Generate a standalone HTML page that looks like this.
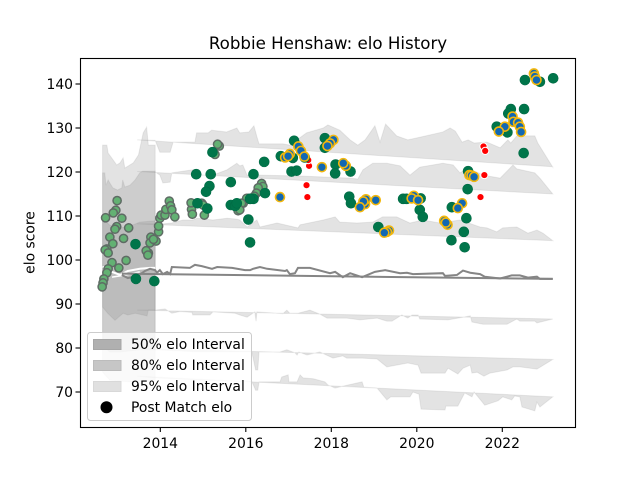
<!DOCTYPE html>
<html>
<head>
<meta charset="utf-8">
<title>Robbie Henshaw: elo History</title>
<style>
html,body{margin:0;padding:0;background:#fff;}
svg{display:block;}
text{font-family:"DejaVu Sans","Liberation Sans",sans-serif;fill:#000;}
</style>
</head>
<body>
<svg id="chart" width="640" height="480" viewBox="0 0 640 480" xmlns="http://www.w3.org/2000/svg">
  <rect x="0" y="0" width="640" height="480" fill="#fff"/>
  <g id="bands"></g>
  <g id="points"></g>
  <rect x="80.5" y="58.5" width="495" height="369" fill="none" stroke="#000" stroke-width="1.1"/>
  <g id="ticks"></g>
  <text x="328" y="49" font-size="16.67" text-anchor="middle">Robbie Henshaw: elo History</text>
  <text x="0" y="0" font-size="13.9" text-anchor="middle" transform="translate(34.5 242.5) rotate(-90)">elo score</text>
  <g>
    <rect x="87.5" y="332.5" width="164" height="88" rx="3" fill="#fff" fill-opacity="0.8" stroke="#cccccc" stroke-width="1"/>
    <rect x="93.5" y="339.5" width="27.5" height="10" fill="#b0b0b0" stroke="#a6a6a6"/>
    <text x="131" y="349" font-size="13.9">50% elo Interval</text>
    <rect x="93.5" y="360.5" width="27.5" height="10" fill="#c6c6c6" stroke="#bcbcbc"/>
    <text x="131" y="370" font-size="13.9">80% elo Interval</text>
    <rect x="93.5" y="381.5" width="27.5" height="10" fill="#e0e0e0" stroke="#d8d8d8"/>
    <text x="131" y="391" font-size="13.9">95% elo Interval</text>
    <circle cx="106.5" cy="407.3" r="6" fill="#000"/>
    <text x="131" y="412" font-size="13.9">Post Match elo</text>
  </g>
</svg>
<script>
var xTickValues = [2014, 2016, 2018, 2020, 2022];
var xTickLabels = ["2014", "2016", "2018", "2020", "2022"];
var yTickValues = [70, 80, 90, 100, 110, 120, 130, 140];
var yTickLabels = ["70", "80", "90", "100", "110", "120", "130", "140"];

var earlyYears = [2012.99,2012.96,2012.90,2012.72,2013.10,2012.98,2012.94,2013.26,2012.82,2013.14,2012.89,2012.75,2012.71,2012.78,2013.20,2012.87,2013.03,2012.78,2012.75,2012.68,2012.66,2012.64,2013.72,2013.67,2013.71,2013.78,2013.76,2013.90,2013.84,2013.96,2013.96,2013.99,2014.02,2014.11,2014.13,2014.21,2014.24,2014.27,2014.34,2014.73,2014.72,2014.75,2014.97,2015.03,2015.09,2015.00,2015.38,2015.28,2015.34,2015.82,2015.94,2016.05,2016.37,2016.40,2016.29,2016.25,2016.02,2015.90,2015.86,2016.10,2016.20];
var earlyElo = [113.5,111.3,110.7,109.6,109.5,107.6,107.0,107.3,105.2,104.9,103.7,102.5,102.3,101.6,99.9,99.4,98.2,98.0,97.1,95.7,94.8,93.9,101.6,102.1,101.1,105.2,103.9,104.3,104.7,106.4,107.7,109.5,110.2,110.2,111.5,113.4,112.3,111.4,109.8,111.5,113.0,110.4,112.9,110.2,111.7,112.5,125.9,124.0,126.3,111.2,112.9,114.0,117.4,116.7,116.4,115.2,114.0,112.9,111.4,113.8,114.5];

var redYears = [2017.48,2017.46,2017.42,2017.44,2021.56,2021.60,2021.58,2021.49];
var redElo = [121.4,122.7,117.0,114.3,125.8,124.8,119.3,114.3];

var darkYears = [2013.42,2013.43,2013.86,2014.84,2015.18,2015.65,2015.15,2015.07,2014.87,2015.10,2015.65,2015.75,2015.79,2016.06,2016.10,2015.22,2016.43,2016.18,2016.45,2016.18,2016.10,2017.13,2016.82,2017.07,2017.19,2017.10,2017.38,2017.85,2017.85,2018.10,2018.09,2018.45,2018.42,2018.46,2019.10,2019.68,2019.76,2022.53,2022.88,2023.19,2022.20,2022.14,2022.51,2021.87,2022.12,2022.50,2021.20,2021.19,2020.09,2020.07,2020.14,2020.82,2021.16,2021.10,2020.81,2021.12];
var darkElo = [103.6,95.7,95.2,119.5,119.5,117.7,116.8,115.5,112.9,111.7,112.5,112.3,112.9,109.2,104.0,124.5,122.3,119.5,115.2,113.9,113.9,127.1,123.6,120.1,120.3,123.2,123.3,127.7,125.5,121.7,119.7,120.1,114.4,112.9,107.5,113.9,113.9,140.9,140.5,141.3,134.3,133.3,134.3,130.3,129.0,124.3,120.2,116.1,114.0,111.4,109.8,112.0,109.5,106.4,104.5,102.9];

var blueYears = [2016.80,2016.92,2017.03,2016.99,2017.23,2017.29,2017.37,2017.78,2018.05,2017.97,2017.91,2018.34,2018.28,2018.79,2018.81,2018.75,2018.67,2019.04,2019.35,2019.30,2019.24,2022.74,2022.76,2022.80,2022.24,2022.26,2022.37,2022.41,2022.44,2022.06,2021.92,2021.23,2021.28,2021.34,2019.93,2019.88,2020.03,2021.06,2020.96,2020.64,2020.72,2020.68];
var blueElo = [114.3,123.3,124.1,123.6,125.8,124.8,123.5,121.1,127.3,126.5,125.9,121.4,122.0,112.7,113.8,113.3,112.0,113.6,106.7,106.4,106.2,142.4,141.7,140.9,132.6,131.4,131.2,130.3,129.1,130.3,129.2,119.3,119.2,118.9,114.6,114.0,113.6,112.9,111.8,108.9,108.0,108.5];

var baseYears = [2013.46, 2023.18];

var bandAYears = [2013.46,2013.88,2013.99,2014.23,2014.30,2014.81,2014.85,2015.12,2015.20,2015.55,2015.79,2015.86,2016.07,2016.19,2016.26,2016.31,2016.87,2017.03,2017.42,2017.81,2017.92,2018.20,2018.44,2018.62,2018.79,2019.02,2019.14,2019.27,2019.53,2019.79,2020.07,2020.61,2020.78,2020.90,2021.06,2021.20,2021.34,2021.64,2021.95,2022.13,2022.20,2022.34,2022.76,2022.83,2023.18];
var bandAElo = [127.3,127.2,124.5,124.5,126.8,126.8,128.9,128.9,129.5,129.1,130.0,128.9,129.1,130.5,128.0,126.4,126.4,126.1,128.9,130.0,130.7,129.5,127.3,126.1,127.3,130.5,126.8,130.9,128.2,127.3,127.9,129.1,130.0,129.3,126.8,127.3,126.6,126.8,125.5,127.3,126.6,128.2,128.2,126.6,121.1];
var bandABase = [127.3, 121.2];

var bandBYears = [2013.46,2013.88,2013.99,2014.06,2014.23,2014.27,2014.76,2014.81,2015.23,2015.56,2015.79,2015.86,2015.93,2016.03,2016.33,2017.27,2018.44,2018.62,2018.74,2018.97,2019.30,2019.61,2019.84,2020.07,2020.61,2020.85,2021.01,2021.20,2021.55,2021.95,2022.18,2022.25,2022.34,2022.76,2022.88,2023.18];
var bandBElo = [120.1,120.0,119.3,117.5,117.7,119.8,120.5,119.3,119.3,120.5,122.0,121.4,121.6,119.3,119.3,119.1,118.6,118.4,120.5,122.0,122.0,121.4,119.3,121.1,122.0,121.6,119.8,120.9,119.3,118.6,120.9,121.6,120.7,119.8,118.6,115.0];
var bandBBase = [120.1, 115.0];

var bandCYears = [2013.46,2014.06,2014.27,2014.53,2014.76,2014.86,2015.05,2015.23,2015.56,2015.79,2015.86,2016.03,2016.26,2016.33,2016.73,2017.22,2017.27,2017.81,2018.09,2018.20,2018.60,2018.97,2019.20,2019.53,2019.84,2020.14,2020.54,2021.01,2021.48,2021.64,2021.87,2022.01,2022.34,2022.60,2022.81,2022.95,2023.18];
var bandCElo = [108.2,108.2,108.4,109.1,109.1,109.5,109.3,109.1,109.5,109.3,109.1,107.5,109.1,107.5,108.4,107.3,108.0,109.1,109.8,108.6,108.4,108.6,109.8,109.8,108.4,109.1,108.4,109.1,107.5,107.3,106.4,107.3,107.5,106.1,106.8,106.1,104.4];
var bandCBase = [108.2, 104.4];

var centerYears = [2013.10,2013.24,2013.48,2013.64,2013.76,2013.88,2013.92,2013.99,2014.06,2014.16,2014.23,2014.27,2014.69,2014.81,2014.97,2015.21,2015.33,2015.68,2015.98,2016.10,2016.17,2016.33,2016.50,2016.92,2016.96,2017.03,2017.15,2017.22,2017.50,2017.97,2018.09,2018.27,2018.44,2018.72,2019.02,2019.26,2019.61,2019.77,2019.91,2020.61,2020.66,2020.94,2021.08,2021.25,2021.48,2021.59,2021.95,2022.22,2022.41,2022.60,2022.81,2022.88,2023.18];
var centerElo = [96.6,95.9,96.4,97.5,98.0,97.7,97.1,97.7,96.8,97.3,96.8,98.4,98.2,98.9,98.6,98.0,98.4,98.2,97.7,97.7,98.0,98.4,98.0,97.5,97.7,96.8,97.0,98.2,98.2,97.0,97.3,96.1,97.0,96.1,97.3,97.7,97.0,97.1,96.8,97.0,96.4,96.6,97.6,97.1,96.8,96.2,95.8,96.5,96.5,96.0,96.2,95.7,95.7];
var centerBaseYears = [2013.10, 2023.18];
var centerBase = [96.9, 95.7];

var bandDYears = [2013.46,2013.88,2014.11,2014.27,2014.46,2014.74,2014.76,2015.16,2015.23,2015.75,2015.86,2016.03,2016.21,2016.24,2016.26,2016.87,2016.96,2017.03,2017.22,2017.50,2017.73,2017.90,2018.36,2018.67,2019.07,2019.30,2019.42,2019.65,2019.79,2019.89,2020.03,2020.07,2020.73,2021.08,2021.25,2021.29,2021.55,2022.11,2022.34,2022.41,2022.76,2022.81,2023.18];
var bandDElo = [88.6,88.6,88.9,87.9,88.3,88.1,87.5,87.5,88.2,87.9,87.5,87.0,88.2,86.1,88.2,87.8,88.6,87.9,87.9,88.6,87.7,86.8,86.8,86.4,86.8,86.1,86.1,87.5,86.8,87.5,87.5,86.6,86.4,87.0,87.3,85.9,85.4,85.4,86.6,86.1,86.1,85.7,86.6];
var bandDBase = [88.6, 86.6];

var bandEYears = [2013.46,2013.88,2014.93,2016.14,2016.23,2016.28,2016.31,2016.80,2016.96,2017.15,2017.20,2017.24,2017.43,2017.73,2018.04,2018.27,2018.36,2018.72,2019.07,2019.30,2019.79,2020.03,2020.10,2020.66,2020.73,2020.96,2021.08,2021.25,2021.29,2021.41,2021.57,2021.71,2022.11,2022.25,2022.41,2022.81,2023.18];
var bandEElo = [79.9,79.6,79.1,79.1,75.0,75.0,79.1,79.1,79.6,78.9,78.4,79.1,78.4,79.1,77.7,78.2,77.7,77.7,77.5,75.7,76.6,76.1,74.3,74.3,75.4,74.1,75.4,76.1,74.3,74.5,73.6,74.3,75.0,75.7,75.7,75.2,77.4];
var bandEBase = [79.9, 77.4];

var bandFYears = [2013.46,2013.88,2014.93,2016.14,2016.23,2016.28,2016.31,2016.80,2016.84,2016.99,2017.01,2017.20,2017.27,2017.34,2017.58,2017.85,2017.92,2018.09,2018.39,2018.72,2018.76,2019.07,2019.30,2019.39,2019.84,2019.91,2020.05,2020.10,2020.66,2020.68,2020.96,2021.12,2021.29,2021.34,2021.59,2021.90,2022.01,2022.22,2022.29,2022.41,2022.46,2022.76,2022.81,2022.88,2023.18];
var bandFElo = [73.6,73.2,72.7,72.4,70.4,70.4,72.3,72.3,73.4,73.9,72.3,72.3,73.9,73.2,73.0,72.3,71.6,70.9,71.6,72.3,71.1,70.9,68.2,68.9,68.9,70.0,69.5,66.1,65.9,66.8,66.8,69.8,68.9,70.0,67.0,68.0,68.9,68.2,69.1,68.9,66.6,65.7,67.7,66.6,68.9];
var bandFBase = [73.6, 68.9];

var block95TopYears = [2012.65,2012.75,2012.78,2012.90,2012.98,2013.06,2013.13,2013.17,2013.37,2013.49,2013.60,2013.68,2013.72,2013.88];
var block95TopElo = [126.1,126.1,124.3,122.7,121.6,122.1,123.2,120.9,122.1,123.9,128.9,130.2,126.1,126.1];
var block95BottomYears = [2012.65,2012.82,2013.29,2013.88];
var block95BottomElo = [74.5,72.7,72.3,72.7];

var block80TopYears = [2012.65,2012.70,2012.73,2012.78,2012.82,2012.89,2013.00,2013.10,2013.12,2013.17,2013.29,2013.41,2013.52,2013.59,2013.88];
var block80TopElo = [119.8,119.8,117.0,118.2,117.5,116.4,115.9,116.4,118.2,116.6,117.0,118.2,119.8,120.2,120.2];
var block80BottomYears = [2012.65,2012.82,2013.06,2013.52,2013.88];
var block80BottomElo = [80.7,79.1,79.1,79.6,79.6];

var block50TopYears = [2012.65,2012.82,2013.06,2013.29,2013.52,2013.88];
var block50TopElo = [109.5,107.9,107.3,107.7,108.6,108.9];
var block50BottomYears = [2012.65,2012.77,2012.94,2013.13,2013.24,2013.41,2013.69,2013.72,2013.88];
var block50BottomElo = [89.3,87.9,86.3,87.9,87.5,87.9,87.3,88.6,88.6];

var gapUpperYears = [2012.65,2012.77,2012.87,2013.06,2013.24,2013.52,2013.76,2013.88];
var gapUpperElo = [98.4,98.4,97.3,96.6,97.5,98.0,98.2,98.2];
var gapLowerYears = [2012.87,2013.06,2013.29,2013.52];
var gapLowerElo = [96.1,96.4,96.8,97.3];

var SVGNS = "http://www.w3.org/2000/svg";
function xScale(year) { return 160.3 + (year - 2014) * 42.75; }
function yScale(elo) { return 84 + (140 - elo) * 4.4; }
function pathPoints(years, values) {
  var out = [];
  for (var i = 0; i < years.length; i++) {
    out.push(xScale(years[i]).toFixed(2) + "," + yScale(values[i]).toFixed(2));
  }
  return out;
}
function reversedPoints(years, values) { return pathPoints(years, values).reverse(); }

var bandsGroup = document.getElementById("bands");
var pointsGroup = document.getElementById("points");
var ticksGroup = document.getElementById("ticks");

function addBand(name, topYears, topValues, bottomYears, bottomValues) {
  var el = document.createElementNS(SVGNS, "polygon");
  
  
  el.setAttribute("points", pathPoints(topYears, topValues).concat(reversedPoints(bottomYears, bottomValues)).join(" "));
  el.setAttribute("fill", "#808080");
  el.setAttribute("fill-opacity", "0.22");
  el.setAttribute("stroke", "#808080");
  el.setAttribute("stroke-opacity", "0.14");
  el.setAttribute("stroke-width", "1");
  bandsGroup.appendChild(el);
}
function addLine(name, years, values, color, width) {
  var el = document.createElementNS(SVGNS, "polyline");
  
  
  el.setAttribute("points", pathPoints(years, values).join(" "));
  el.setAttribute("fill", "none");
  el.setAttribute("stroke", color);
  el.setAttribute("stroke-width", width);
  bandsGroup.appendChild(el);
}
function addPoints(name, years, values, radius, fill, stroke, strokeWidth) {
  for (var i = 0; i < years.length; i++) {
    var c = document.createElementNS(SVGNS, "circle");
    
    
    c.setAttribute("cx", xScale(years[i]).toFixed(2));
    c.setAttribute("cy", yScale(values[i]).toFixed(2));
    c.setAttribute("r", radius);
    c.setAttribute("fill", fill);
    c.setAttribute("stroke", stroke);
    c.setAttribute("stroke-width", strokeWidth);
    pointsGroup.appendChild(c);
  }
}

addBand("early-interval-95", block95TopYears, block95TopElo, block95BottomYears, block95BottomElo);
addBand("early-interval-80", block80TopYears, block80TopElo, block80BottomYears, block80BottomElo);
addBand("early-interval-50", block50TopYears, block50TopElo, block50BottomYears, block50BottomElo);
addBand("upper-interval-95", bandAYears, bandAElo, baseYears, bandABase);
addBand("upper-interval-80", bandBYears, bandBElo, baseYears, bandBBase);
addBand("upper-interval-50", bandCYears, bandCElo, baseYears, bandCBase);
addBand("lower-interval-50", bandDYears, bandDElo, baseYears, bandDBase);
addBand("lower-interval-80", bandEYears, bandEElo, baseYears, bandEBase);
addBand("lower-interval-95", bandFYears, bandFElo, baseYears, bandFBase);
addLine("early-gap-upper", gapUpperYears, gapUpperElo, "#ffffff", 2);
addLine("early-gap-lower", gapLowerYears, gapLowerElo, "#ffffff", 1.5);
addLine("median-upper-line", centerYears, centerElo, "#858585", 2);
addLine("median-lower-line", centerBaseYears, centerBase, "#858585", 2);

addPoints("early-match-point", earlyYears, earlyElo, 4.1, "#63b173", "#5e6b64", 1.5);
addPoints("unrated-match-point", redYears, redElo, 3.6, "#ff0000", "#ffffff", 1);
addPoints("match-point", darkYears, darkElo, 5, "#00754a", "#006b45", 0.6);
addPoints("recent-match-point", blueYears, blueElo, 4.5, "#1268b3", "#f2b70d", 1.6);

for (var i = 0; i < xTickValues.length; i++) {
  var xt = document.createElementNS(SVGNS, "line");
  
  
  xt.setAttribute("x1", xScale(xTickValues[i]));
  xt.setAttribute("x2", xScale(xTickValues[i]));
  xt.setAttribute("y1", 427);
  xt.setAttribute("y2", 432);
  xt.setAttribute("stroke", "#000");
  xt.setAttribute("stroke-width", "1.1");
  ticksGroup.appendChild(xt);
  var xl = document.createElementNS(SVGNS, "text");
  
  
  xl.setAttribute("x", xScale(xTickValues[i]));
  xl.setAttribute("y", 448);
  xl.setAttribute("font-size", "13.9");
  xl.setAttribute("text-anchor", "middle");
  xl.textContent = xTickLabels[i];
  ticksGroup.appendChild(xl);
}
for (var j = 0; j < yTickValues.length; j++) {
  var yt = document.createElementNS(SVGNS, "line");
  
  
  yt.setAttribute("x1", 75.5);
  yt.setAttribute("x2", 80.5);
  yt.setAttribute("y1", yScale(yTickValues[j]));
  yt.setAttribute("y2", yScale(yTickValues[j]));
  yt.setAttribute("stroke", "#000");
  yt.setAttribute("stroke-width", "1.1");
  ticksGroup.appendChild(yt);
  var yl = document.createElementNS(SVGNS, "text");
  
  
  yl.setAttribute("x", 73);
  yl.setAttribute("y", yScale(yTickValues[j]) + 5.2);
  yl.setAttribute("font-size", "13.9");
  yl.setAttribute("text-anchor", "end");
  yl.textContent = yTickLabels[j];
  ticksGroup.appendChild(yl);
}
</script>
</body>
</html>
